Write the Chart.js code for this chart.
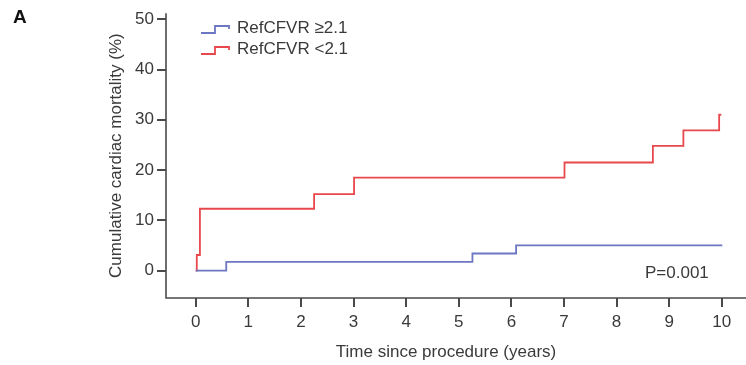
<!DOCTYPE html>
<html>
<head>
<meta charset="utf-8">
<script src="https://cdn.jsdelivr.net/npm/chart.js@4/dist/chart.umd.min.js"></script>
<style>
  html, body { margin: 0; padding: 0; background: #fff; }
  #wrap { width: 746px; height: 365px; position: relative; }
</style>
</head>
<body>
<div id="wrap"><canvas id="km"></canvas></div>
<script>
// Kaplan-Meier style cumulative cardiac mortality (%), by RefCFVR group
const seriesLabels = ["RefCFVR \u22652.1", "RefCFVR <2.1"];
const seriesColors = ["#6d76c2", "#e8474b"];

const highYears = [0, 0.58, 5.26, 6.09, 10.01];
const highMort  = [0, 1.75, 3.4, 5.0, 5.0];

const lowYears = [0, 0.02, 0.08, 2.25, 3.01, 7.01, 8.69, 9.27, 9.95, 9.99];
const lowMort  = [0, 3.1, 12.3, 15.2, 18.5, 21.5, 24.8, 27.9, 31.0, 31.0];

const xTicks = [0, 1, 2, 3, 4, 5, 6, 7, 8, 9, 10];
const yTicks = [0, 10, 20, 30, 40, 50];

const panelLetter = "A";
const pValueText = "P=0.001";

const FONT = "'Liberation Sans', Arial, sans-serif";
const TEXT = "#3a3a3a";
const AXIS = "#4a4a4a";

function pts(xs, ys) { return xs.map((x, i) => ({ x, y: ys[i] })); }

// axis lines, legend with step icons, panel letter and p value
const decor = {
  id: "decor",
  afterDraw(chart) {
    const { ctx, chartArea } = chart;
    const x0 = chartArea.left, yb = chartArea.bottom;
    ctx.save();
    ctx.strokeStyle = AXIS;
    ctx.lineWidth = 1.6;
    ctx.beginPath();
    ctx.moveTo(x0, chartArea.top);
    ctx.lineTo(x0, yb);
    ctx.lineTo(chart.width, yb);
    ctx.stroke();

    // legend
    ctx.font = "17px " + FONT;
    ctx.textBaseline = "middle";
    const rows = [28, 49];
    seriesLabels.forEach((lab, i) => {
      const cy = rows[i];
      ctx.strokeStyle = seriesColors[i];
      ctx.lineWidth = 1.8;
      ctx.beginPath();
      ctx.moveTo(201, cy + 5);
      ctx.lineTo(215, cy + 5);
      ctx.lineTo(215, cy - 2);
      ctx.lineTo(229, cy - 2);
      ctx.lineTo(229, cy + 1);
      ctx.stroke();
      ctx.fillStyle = TEXT;
      ctx.textAlign = "left";
      ctx.fillText(lab, 237, cy);
    });

    // p value
    ctx.textAlign = "left";
    ctx.fillText(pValueText, 645, 273);

    // panel letter
    ctx.font = "bold 19px " + FONT;
    ctx.fillStyle = "#111";
    ctx.fillText(panelLetter, 13, 18);
    ctx.restore();
  }
};

new Chart(document.getElementById("km"), {
  type: "line",
  data: {
    datasets: [
      { label: seriesLabels[0], data: pts(highYears, highMort), borderColor: seriesColors[0] },
      { label: seriesLabels[1], data: pts(lowYears, lowMort), borderColor: seriesColors[1] },
    ].map(d => ({ ...d, stepped: true, borderWidth: 1.8, pointRadius: 0, fill: false })),
  },
  options: {
    responsive: true,
    maintainAspectRatio: false,
    animation: false,
    layout: { padding: { top: 7, right: 20, left: 0, bottom: 0 } },
    plugins: { legend: { display: false }, tooltip: { enabled: false } },
    scales: {
      x: {
        type: "linear",
        min: -0.565,
        max: 10.08,
        afterBuildTicks: s => { s.ticks = xTicks.map(v => ({ value: v })); },
        afterFit: s => { s.height = 67; },
        border: { display: false },
        grid: { drawOnChartArea: false, drawTicks: true, tickLength: 9, lineWidth: 2, color: AXIS },
        ticks: { color: TEXT, font: { family: FONT, size: 17 }, padding: 5, maxRotation: 0 },
        title: {
          display: true,
          text: "Time since procedure (years)",
          color: TEXT,
          font: { family: FONT, size: 17 },
          padding: { top: 0, bottom: 2 },
        },
      },
      y: {
        min: -5.45,
        max: 51.2,
        afterBuildTicks: s => { s.ticks = yTicks.map(v => ({ value: v })); },
        afterFit: s => { s.width = 166; },
        border: { display: false },
        grid: { drawOnChartArea: false, drawTicks: true, tickLength: 9, lineWidth: 2, color: AXIS },
        ticks: { color: TEXT, font: { family: FONT, size: 17 }, padding: 3 },
        title: {
          display: true,
          text: "Cumulative cardiac mortality (%)",
          color: TEXT,
          font: { family: FONT, size: 17 },
          padding: { top: 106, bottom: 0 },
        },
      },
    },
  },
  plugins: [decor],
});
</script>
</body>
</html>
